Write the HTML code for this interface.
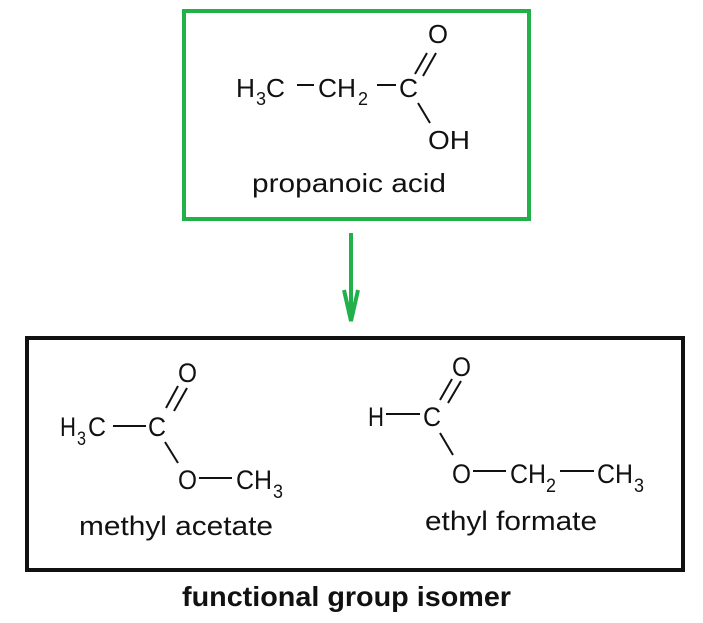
<!DOCTYPE html>
<html><head><style>html,body{margin:0;padding:0;background:#fff}svg{display:block}</style></head>
<body>
<svg width="703" height="623" viewBox="0 0 703 623" xmlns="http://www.w3.org/2000/svg" font-family="Liberation Sans, Arial, sans-serif" fill="#111">
<rect x="184" y="11" width="345" height="208" fill="none" stroke="#22b04b" stroke-width="4"/>
<g font-size="26">
<text x="236" y="97" textLength="19" lengthAdjust="spacingAndGlyphs">H</text><text x="256" y="105" font-size="18">3</text><text x="266" y="97" textLength="19" lengthAdjust="spacingAndGlyphs">C</text>
<line x1="297" y1="85" x2="314" y2="85" stroke="#111" stroke-width="2"/>
<text x="318" y="97" textLength="38" lengthAdjust="spacingAndGlyphs">CH</text><text x="358" y="105" font-size="18">2</text>
<line x1="377" y1="85" x2="396" y2="85" stroke="#111" stroke-width="2"/>
<text x="399" y="97" textLength="19" lengthAdjust="spacingAndGlyphs">C</text>
<text x="428" y="43" textLength="20" lengthAdjust="spacingAndGlyphs">O</text>
<line x1="415" y1="74" x2="427" y2="53" stroke="#111" stroke-width="2"/>
<line x1="423" y1="76" x2="436" y2="53" stroke="#111" stroke-width="2"/>
<line x1="418" y1="103" x2="430" y2="123" stroke="#111" stroke-width="2"/>
<text x="428" y="149" textLength="42" lengthAdjust="spacingAndGlyphs">OH</text>
<text x="252" y="192" textLength="194" lengthAdjust="spacingAndGlyphs">propanoic acid</text>
</g>
<line x1="351" y1="233" x2="351" y2="318" stroke="#22b04b" stroke-width="4"/>
<polyline points="344,290 351,321 358,290" fill="none" stroke="#22b04b" stroke-width="4"/>
<rect x="27" y="338" width="656" height="232" fill="none" stroke="#111" stroke-width="4"/>
<g font-size="27">
<text x="60" y="436" textLength="16" lengthAdjust="spacingAndGlyphs">H</text><text x="77" y="445" font-size="19" textLength="9" lengthAdjust="spacingAndGlyphs">3</text><text x="88" y="436" textLength="18" lengthAdjust="spacingAndGlyphs">C</text>
<line x1="113" y1="426" x2="146" y2="426" stroke="#111" stroke-width="2"/>
<text x="148" y="436" textLength="18" lengthAdjust="spacingAndGlyphs">C</text>
<text x="178" y="382" textLength="19" lengthAdjust="spacingAndGlyphs">O</text>
<line x1="166" y1="408" x2="178" y2="386" stroke="#111" stroke-width="2"/>
<line x1="174" y1="411" x2="187" y2="388" stroke="#111" stroke-width="2"/>
<line x1="165" y1="442" x2="178" y2="463" stroke="#111" stroke-width="2"/>
<text x="178" y="489" textLength="19" lengthAdjust="spacingAndGlyphs">O</text>
<line x1="199" y1="478" x2="232" y2="478" stroke="#111" stroke-width="2"/>
<text x="236" y="489" textLength="36" lengthAdjust="spacingAndGlyphs">CH</text><text x="273" y="498" font-size="19" textLength="10" lengthAdjust="spacingAndGlyphs">3</text>
<text x="79" y="535" textLength="194" lengthAdjust="spacingAndGlyphs">methyl acetate</text>

<text x="368" y="426" textLength="16" lengthAdjust="spacingAndGlyphs">H</text>
<line x1="386" y1="414" x2="420" y2="414" stroke="#111" stroke-width="2"/>
<text x="423" y="426" textLength="18" lengthAdjust="spacingAndGlyphs">C</text>
<text x="452" y="376" textLength="19" lengthAdjust="spacingAndGlyphs">O</text>
<line x1="440" y1="400" x2="452" y2="379" stroke="#111" stroke-width="2"/>
<line x1="448" y1="403" x2="461" y2="381" stroke="#111" stroke-width="2"/>
<line x1="440" y1="433" x2="453" y2="455" stroke="#111" stroke-width="2"/>
<text x="452" y="483" textLength="19" lengthAdjust="spacingAndGlyphs">O</text>
<line x1="473" y1="471" x2="506" y2="471" stroke="#111" stroke-width="2"/>
<text x="510" y="483" textLength="36" lengthAdjust="spacingAndGlyphs">CH</text><text x="546" y="492" font-size="19" textLength="10" lengthAdjust="spacingAndGlyphs">2</text>
<line x1="560" y1="471" x2="594" y2="471" stroke="#111" stroke-width="2"/>
<text x="597" y="483" textLength="36" lengthAdjust="spacingAndGlyphs">CH</text><text x="634" y="492" font-size="19" textLength="10" lengthAdjust="spacingAndGlyphs">3</text>
<text x="425" y="530" textLength="172" lengthAdjust="spacingAndGlyphs">ethyl formate</text>
</g>
<text x="182" y="606" font-size="28" font-weight="bold" textLength="329" lengthAdjust="spacingAndGlyphs">functional group isomer</text>
</svg>
</body></html>
